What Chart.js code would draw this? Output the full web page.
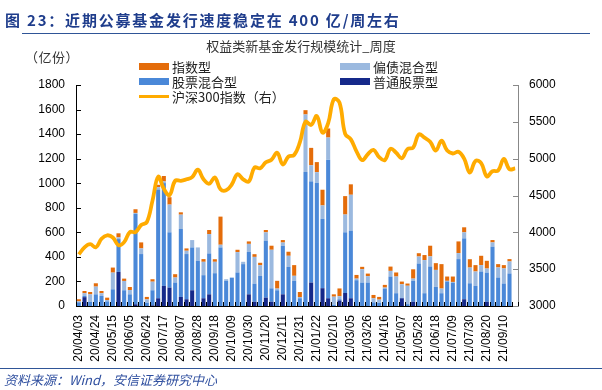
<!DOCTYPE html>
<html>
<head>
<meta charset="utf-8">
<script src="https://cdn.jsdelivr.net/npm/chart.js@4.4.1/dist/chart.umd.min.js"></script>
<style>
  body { margin: 0; background: #fff; }
  #wrap { position: relative; width: 602px; height: 390px; overflow: hidden;
          font-family: "Liberation Sans", "Noto Sans CJK SC", sans-serif; }
  #chart { position: absolute; left: 0; top: 0; }
  .txt { position: absolute; white-space: nowrap; font-family: "Noto Sans CJK SC", sans-serif; text-spacing-trim: space-all; }
  #head { left: 5px; top: 9px; font-size: 15px; font-weight: bold; color: #1f3d8c; letter-spacing: 1.8px; }
  #headLine { position: absolute; left: 22px; top: 33px; width: 568px; height: 1px; background: #2f5597; }
  #title { left: 0; width: 602px; text-align: center; top: 36px; font-size: 13px; color: #333; }
  #unit { left: 25px; top: 47px; font-size: 13px; color: #333; letter-spacing: 0.5px; }
  #foot { left: 4px; top: 370px; font-size: 13px; font-style: italic; color: #2f4f9f; }
  #footLine { position: absolute; left: 0; top: 368px; width: 602px; height: 1px; background: #2f5597; }
  .lg { position: absolute; font-size: 13px; color: #222; font-family: "Noto Sans CJK SC", sans-serif; white-space: nowrap; line-height: 15px; text-spacing-trim: space-all; }
  .sw { position: absolute; width: 30px; height: 7px; }
</style>
</head>
<body>
<div id="wrap">
  <canvas id="chart" width="602" height="390"></canvas>
  <div class="txt" id="head">图 23：近期公募基金发行速度稳定在 400 亿/周左右</div>
  <div id="headLine"></div>
  <div class="txt" id="title">权益类新基金发行规模统计_周度</div>
  <div class="txt" id="unit">（亿份）</div>
  <div id="legend"></div>
  <div id="footLine"></div>
  <div class="txt" id="foot">资料来源：Wind，安信证券研究中心</div>
</div>
<script>
// ===== data =====
const weeks = [
  "20/04/03","20/04/10","20/04/17","20/04/24","20/04/30","20/05/08","20/05/15","20/05/22","20/05/29","20/06/05",
  "20/06/12","20/06/19","20/06/24","20/07/03","20/07/10","20/07/17","20/07/24","20/07/31","20/08/07","20/08/14",
  "20/08/21","20/08/28","20/09/04","20/09/11","20/09/18","20/09/25","20/09/30","20/10/09","20/10/16","20/10/23",
  "20/10/30","20/11/06","20/11/13","20/11/20","20/11/27","20/12/04","20/12/11","20/12/18","20/12/25","20/12/31",
  "21/01/08","21/01/15","21/01/22","21/01/29","21/02/05","21/02/10","21/02/19","21/02/26","21/03/05","21/03/12",
  "21/03/19","21/03/26","21/04/02","21/04/09","21/04/16","21/04/23","21/04/30","21/05/07","21/05/14","21/05/21",
  "21/05/28","21/06/04","21/06/11","21/06/18","21/06/25","21/07/02","21/07/09","21/07/16","21/07/23","21/07/30",
  "21/08/06","21/08/13","21/08/20","21/08/27","21/09/03","21/09/10","21/09/17","21/09/24"
];

// 普通股票型
const stockFund = [
  0, 72, 0, 0, 0, 0, 0, 278, 0, 0,
  14, 0, 0, 5, 63, 164, 150, 0, 74, 55,
  128, 0, 63, 95, 0, 0, 0, 0, 0, 0,
  95, 35, 0, 68, 35, 0, 95, 0, 0, 0,
  0, 191, 0, 145, 63, 0, 45, 106, 63, 0,
  0, 0, 0, 0, 0, 0, 0, 63, 0, 35,
  0, 0, 0, 0, 0, 0, 0, 0, 55, 0,
  0, 0, 35, 0, 0, 0, 0, null
];
// 股票混合型
const equityMixed = [
  30, 10, 35, 95, 82, 38, 136, 267, 128, 95,
  736, 423, 27, 123, 886, 837, 450, 191, 553, 368,
  349, 368, 188, 333, 267, 477, 205, 231, 273, 341,
  346, 147, 245, 464, 109, 128, 395, 319, 205, 63,
  1091, 824, 1003, 565, 1129, 10, 10, 494, 551, 210,
  191, 191, 30, 27, 142, 240, 104, 5, 15, 169,
  346, 104, 322, 155, 104, 200, 190, 382, 496, 185,
  164, 281, 237, 483, 232, 183, 265, null
];
// 偏债混合型
const bondMixed = [
  8, 22, 60, 63, 22, 11, 136, 14, 76, 35,
  8, 46, 27, 70, 19, 14, 226, 41, 117, 27,
  60, 109, 109, 158, 93, 22, 13, 0, 166, 19,
  65, 218, 87, 68, 314, 14, 27, 90, 41, 10,
  469, 131, 87, 109, 180, 66, 25, 145, 292, 13,
  109, 52, 33, 25, 8, 46, 136, 109, 150, 19,
  57, 270, 82, 139, 38, 5, 6, 49, 49, 128,
  117, 52, 33, 35, 82, 123, 98, null
];
// 指数型
const indexFund = [
  17, 18, 19, 27, 18, 19, 41, 33, 19, 25,
  30, 49, 20, 20, 19, 44, 60, 27, 19, 19,
  0, 0, 22, 33, 21, 229, 0, 0, 19, 0,
  20, 22, 20, 19, 33, 63, 20, 33, 87, 41,
  35, 142, 82, 128, 74, 19, 63, 150, 85, 30,
  19, 21, 27, 22, 22, 35, 33, 22, 18, 76,
  27, 41, 87, 55, 199, 35, 44, 95, 41, 68,
  52, 76, 63, 19, 27, 27, 19, null
];
// 沪深300指数（右轴）
const csi300 = [
  3700, 3796, 3839, 3796, 3912, 3960, 3930, 3824, 3867, 4003,
  4003, 4099, 4139, 4430, 4755, 4590, 4505, 4700, 4700, 4720,
  4750, 4850, 4720, 4660, 4745, 4585, 4570, 4650, 4790, 4720,
  4690, 4880, 4870, 4950, 4985, 5080, 4920, 5030, 5050, 5220,
  5500, 5458, 5580, 5352, 5483, 5808, 5760, 5336, 5262, 5100,
  4980, 5060, 5120, 5020, 4980, 5135, 5080, 5005, 5130, 5150,
  5330, 5285, 5230, 5110, 5245, 5110, 5070, 5094, 5000, 4811,
  4969, 4941, 4760, 4829, 4840, 4996, 4856, 4867
];

const leftTicks = [0, 200, 400, 600, 800, 1000, 1200, 1400, 1600, 1800];
const rightTicks = [3000, 3500, 4000, 4500, 5000, 5500, 6000];

// colours
const C_INDEX = "#e46c0a";
const C_BOND = "#9bb9df";
const C_EQMIX = "#4a88d8";
const C_STOCK = "#15298a";
const C_LINE = "#ffab00";

// ===== legend (two columns, inside plot) =====
const legendItems = [
  { label: "指数型", color: C_INDEX, x: 139, y: 63 },
  { label: "偏债混合型", color: C_BOND, x: 340, y: 63 },
  { label: "股票混合型", color: C_EQMIX, x: 139, y: 78 },
  { label: "普通股票型", color: C_STOCK, x: 340, y: 78 },
  { label: "沪深300指数（右）", color: C_LINE, x: 139, y: 93, line: true }
];
const legendEl = document.getElementById("legend");
legendItems.forEach(it => {
  const sw = document.createElement("div");
  sw.className = "sw";
  sw.style.left = it.x + "px";
  sw.style.top = (it.line ? it.y + 2 : it.y) + "px";
  sw.style.height = (it.line ? 3 : 7) + "px";
  sw.style.background = it.color;
  legendEl.appendChild(sw);
  const t = document.createElement("div");
  t.className = "lg";
  t.textContent = it.label;
  t.style.left = (it.x + 33) + "px";
  t.style.top = (it.y - 4) + "px";
  legendEl.appendChild(t);
});

// inward tick marks, Excel style
const innerTicks = {
  id: "innerTicks",
  afterDraw(chart) {
    const { ctx, chartArea: a, scales } = chart;
    ctx.save();
    ctx.lineWidth = 1;
    ctx.strokeStyle = "#000";
    ctx.beginPath();
    scales.y.ticks.forEach((t, i) => {
      const y = Math.round(scales.y.getPixelForTick(i)) + 0.5;
      ctx.moveTo(a.left, y); ctx.lineTo(a.left + 5, y);
    });
    const w = (a.right - a.left) / weeks.length;
    for (let i = 0; i <= weeks.length; i++) {
      const x = Math.round(a.left + i * w) + 0.5;
      ctx.moveTo(x, a.bottom); ctx.lineTo(x, a.bottom - 4);
    }
    ctx.stroke();
    ctx.strokeStyle = "#888";
    ctx.beginPath();
    scales.y1.ticks.forEach((t, i) => {
      const y = Math.round(scales.y1.getPixelForTick(i)) + 0.5;
      ctx.moveTo(a.right, y); ctx.lineTo(a.right - 5, y);
    });
    ctx.stroke();
    ctx.restore();
  }
};

const font = { family: '"Liberation Sans", Arial, sans-serif', size: 12 };
const bar = (label, data, color) => ({
  type: "bar", label, data, backgroundColor: color, yAxisID: "y",
  stack: "s", order: 1, barPercentage: 0.72, categoryPercentage: 1
});

new Chart(document.getElementById("chart"), {
  data: {
    labels: weeks,
    datasets: [
      {
        type: "line", label: "沪深300指数（右）", data: csi300, yAxisID: "y1",
        borderColor: C_LINE, borderWidth: 3.8, pointRadius: 0, tension: 0.4, order: 0
      },
      bar("普通股票型", stockFund, C_STOCK),
      bar("股票混合型", equityMixed, C_EQMIX),
      bar("偏债混合型", bondMixed, C_BOND),
      bar("指数型", indexFund, C_INDEX)
    ]
  },
  options: {
    responsive: false,
    animation: false,
    layout: { padding: { top: 85, left: 0, right: 0, bottom: 0 } },
    plugins: { legend: { display: false }, tooltip: { enabled: false } },
    scales: {
      x: {
        stacked: true,
        offset: true,
        grid: { display: false, drawTicks: false },
        border: { display: true, color: "#000" },
        ticks: {
          autoSkip: false, maxRotation: 90, minRotation: 90, padding: 9,
          color: "#000", font,
          callback: (v, i) => (i % 3 === 0 ? weeks[i] : "")
        },
        afterFit: s => { s.height = 84; }
      },
      y: {
        position: "left", stacked: true, min: 0, max: 1800,
        afterBuildTicks: s => { s.ticks = leftTicks.map(v => ({ value: v })); },
        grid: { display: false, drawTicks: false },
        border: { display: true, color: "#000" },
        ticks: { padding: 11, color: "#000", font, callback: v => String(v) },
        afterFit: s => { s.width = 76; }
      },
      y1: {
        position: "right", min: 3000, max: 6000,
        afterBuildTicks: s => { s.ticks = rightTicks.map(v => ({ value: v })); },
        grid: { display: false, drawTicks: false },
        border: { display: true, color: "#888" },
        ticks: { padding: 11, color: "#000", font, callback: v => String(v) },
        afterFit: s => { s.width = 84; }
      }
    }
  },
  plugins: [innerTicks]
});
</script>
</body>
</html>
